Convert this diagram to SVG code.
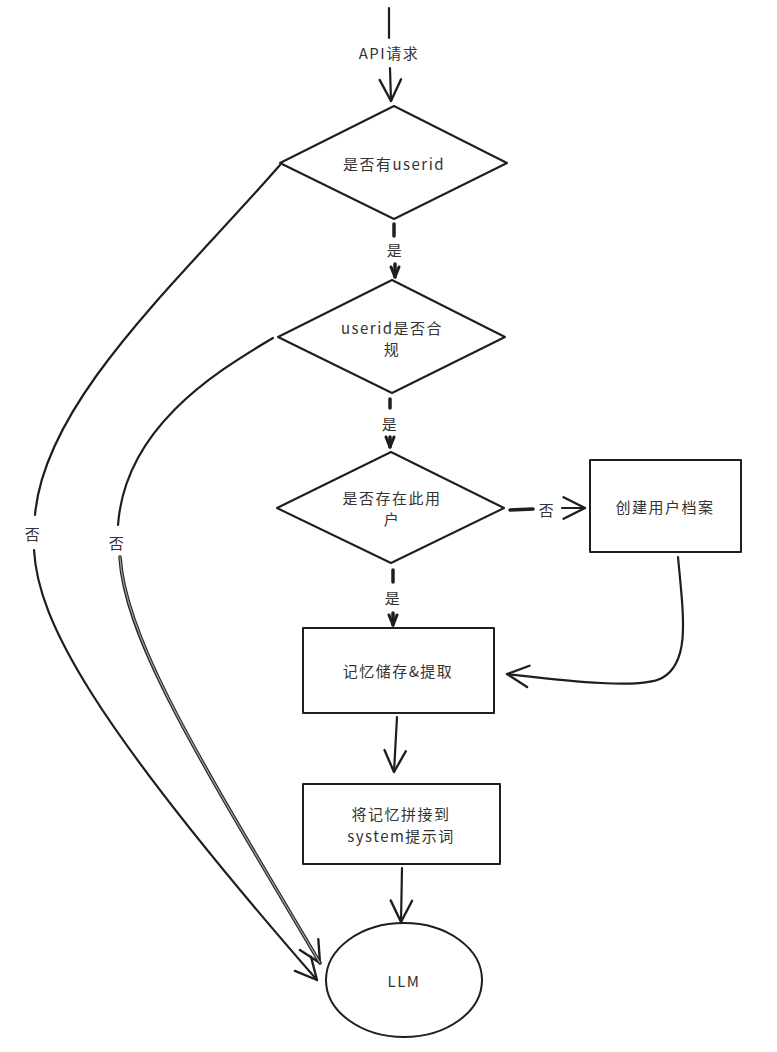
<svg xmlns="http://www.w3.org/2000/svg" width="777" height="1052" viewBox="0 0 777 1052">
<style>
.shape{fill:#fff;stroke:#1e1e1e;stroke-width:2;stroke-linejoin:round}
.line{fill:none;stroke:#1e1e1e;stroke-width:2.2;stroke-linecap:round}
.thick{fill:none;stroke:#1e1e1e;stroke-width:3.5;stroke-linecap:round}
.gray{fill:none;stroke:#9a9a9a;stroke-width:1.4;stroke-linecap:round}
text{font-family:"Noto Sans CJK SC","Noto Sans",sans-serif;font-size:15px;fill:#333;text-anchor:middle;dominant-baseline:central;letter-spacing:1.5px}
</style>
<defs>
<marker id="big" markerUnits="userSpaceOnUse" markerWidth="30" markerHeight="30" refX="0" refY="0" viewBox="-24 -14 28 28" orient="auto">
<path d="M-20,-10 L0,0 L-20,10" fill="none" stroke="#1e1e1e" stroke-width="2.2" stroke-linecap="round" stroke-linejoin="round"/>
</marker>
<marker id="small" markerUnits="userSpaceOnUse" markerWidth="16" markerHeight="16" refX="0" refY="0" viewBox="-12 -8 14 16" orient="auto">
<path d="M-10,-4 L0,0 L-10,4" fill="none" stroke="#1e1e1e" stroke-width="3" stroke-linecap="round" stroke-linejoin="round"/>
</marker>
</defs>
<g id="connectors">
<line class="line" x1="389" y1="8" x2="389" y2="38"/>
<text x="389" y="52">API请求</text>
<line class="line" x1="390" y1="68" x2="391" y2="101" marker-end="url(#big)"/>
<line class="thick" x1="394" y1="224" x2="394" y2="236"/>
<text x="395" y="249">是</text>
<line class="thick" x1="395" y1="264" x2="395" y2="277" marker-end="url(#small)"/>
<line class="thick" x1="390" y1="399" x2="390" y2="408"/>
<text x="390" y="423">是</text>
<line class="thick" x1="390" y1="437" x2="390" y2="447" marker-end="url(#small)"/>
<line class="thick" x1="510" y1="510" x2="533" y2="509"/>
<text x="547" y="509">否</text>
<line class="line" x1="562" y1="508" x2="585" y2="508" marker-end="url(#big)"/>
<line class="thick" x1="393" y1="570" x2="393" y2="582"/>
<text x="393" y="597">是</text>
<line class="thick" x1="393" y1="613" x2="393" y2="625" marker-end="url(#small)"/>
<path class="line" d="M678,557 C684,620 690,662 662,678 C640,690 560,680 507,674" marker-end="url(#big)"/>
<line class="line" x1="397" y1="717" x2="394" y2="772" marker-end="url(#big)"/>
<line class="line" x1="402" y1="868" x2="401" y2="922" marker-end="url(#big)"/>
<path class="line" d="M280,165 C180,280 45,400 35,515"/>
<text x="33" y="533">否</text>
<path class="line" d="M34,550 C38,620 90,720 317,980" marker-end="url(#big)"/>
<path class="line" d="M273,338 C210,375 125,430 118,525"/>
<text x="117" y="542">否</text>
<path class="thick" d="M120,557 C125,640 200,760 320,963" marker-end="url(#big)"/>
<path class="gray" d="M120,557 C125,640 200,760 320,963"/>
</g>
<g id="node-has-userid">
<polygon class="shape" points="394,106 507,163 394,219 280,163"/>
<text x="394" y="163">是否有userid</text>
</g>
<g id="node-userid-valid">
<polygon class="shape" points="392,280 505,337 392,393 278,337"/>
<text x="392" y="327">userid是否合</text>
<text x="392" y="348">规</text>
</g>
<g id="node-user-exists">
<polygon class="shape" points="391,452 504,508 391,563 277,508"/>
<text x="392" y="497">是否存在此用</text>
<text x="392" y="518">户</text>
</g>
<g id="node-create-profile">
<rect class="shape" x="590" y="460" width="151" height="92"/>
<text x="665" y="506">创建用户档案</text>
</g>
<g id="node-memory">
<rect class="shape" x="303" y="628" width="191" height="85"/>
<text x="398" y="670">记忆储存&amp;提取</text>
</g>
<g id="node-concat">
<rect class="shape" x="303" y="784" width="197" height="80"/>
<text x="401" y="813">将记忆拼接到</text>
<text x="401" y="835">system提示词</text>
</g>
<g id="node-llm">
<ellipse class="shape" cx="404" cy="980" rx="78" ry="57"/>
<text x="404" y="980">LLM</text>
</g>
</svg>
